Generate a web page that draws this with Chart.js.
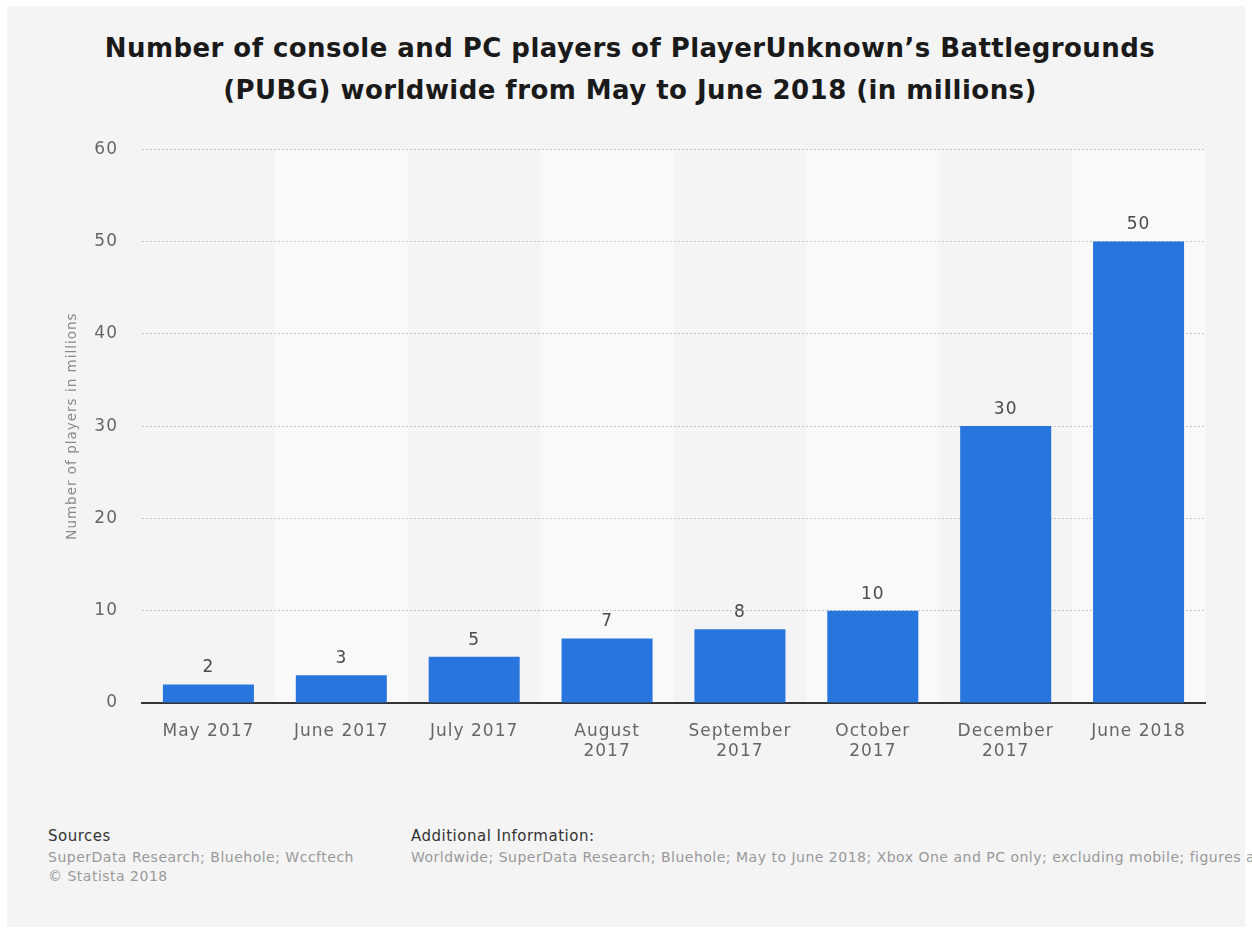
<!DOCTYPE html>
<html>
<head>
<meta charset="utf-8">
<script src="https://cdn.jsdelivr.net/npm/chart.js@4.4.1/dist/chart.umd.min.js"></script>
<style>
  html, body { margin: 0; padding: 0; background: #ffffff; width: 1252px; height: 929px; overflow: hidden; }
  #panel { position: absolute; left: 7px; top: 6px; width: 1238px; height: 921px; background: #f4f4f4; }
  #title { position: absolute; left: 0; top: 27px; width: 1260px; text-align: center;
           font: bold 26px "DejaVu Sans", sans-serif; line-height: 42px; color: #1a1a1a; letter-spacing: 0.45px; }
  #chartBox { position: absolute; left: 0; top: 115px; width: 1252px; height: 658px; }
  .foot { position: absolute; font-family: "DejaVu Sans", sans-serif; white-space: nowrap; }
  .head { font-size: 15px; color: #333; letter-spacing: 0.5px; }
  .sub { font-size: 14px; color: #999; line-height: 19px; letter-spacing: 0.5px; }
</style>
</head>
<body>
<div id="panel"></div>
<div id="title">Number of console and PC players of PlayerUnknown’s Battlegrounds<br>(PUBG) worldwide from May to June 2018 (in millions)</div>
<div id="chartBox"><canvas id="c"></canvas></div>
<div class="foot head" style="left:48px; top:827px;">Sources</div>
<div class="foot sub" style="left:48px; top:848px;">SuperData Research; Bluehole; Wccftech<br>© Statista 2018</div>
<div class="foot head" style="left:411px; top:827px;">Additional Information:</div>
<div class="foot sub" style="left:411px; top:848px;">Worldwide; SuperData Research; Bluehole; May to June 2018; Xbox One and PC only; excluding mobile; figures a</div>
<script>
const categories = ['May 2017', 'June 2017', 'July 2017', ['August', '2017'], ['September', '2017'], ['October', '2017'], ['December', '2017'], 'June 2018'];
const players = [2, 3, 5, 7, 8, 10, 30, 50];
const yMin = 0;
const yMax = 60;
const yStep = 10;
const yAxisTitle = 'Number of players in millions';

const spacingPlugin = {
  id: 'spacing',
  beforeDraw(chart) {
    chart.ctx.letterSpacing = '1px';
  }
};

const bgBands = {
  id: 'bgBands',
  beforeDraw(chart) {
    const { ctx, chartArea, scales } = chart;
    const x = scales.x;
    const w = (chartArea.right - chartArea.left) / categories.length;
    ctx.save();
    ctx.fillStyle = '#f9f9f9';
    categories.forEach((c, i) => {
      if (i % 2 === 1) {
        const cx = x.getPixelForValue(i);
        ctx.fillRect(cx - w / 2, chartArea.top, w, chartArea.bottom - chartArea.top);
      }
    });
    ctx.restore();
  }
};

const valueLabels = {
  id: 'valueLabels',
  afterDatasetsDraw(chart) {
    const ctx = chart.ctx;
    const meta = chart.getDatasetMeta(0);
    ctx.save();
    ctx.font = '17px "DejaVu Sans", sans-serif';
    ctx.fillStyle = '#4a4a4a';
    ctx.textAlign = 'center';
    ctx.textBaseline = 'bottom';
    meta.data.forEach((bar, i) => {
      ctx.fillText(String(players[i]), bar.x, bar.y - 8);
    });
    ctx.restore();
  }
};

new Chart(document.getElementById('c'), {
  type: 'bar',
  data: {
    labels: categories,
    datasets: [{
      data: players,
      backgroundColor: '#2876dd',
      borderWidth: 0,
      barPercentage: 0.685,
      categoryPercentage: 1
    }]
  },
  plugins: [spacingPlugin, bgBands, valueLabels],
  options: {
    responsive: true,
    maintainAspectRatio: false,
    animation: false,
    layout: { padding: { left: 60, right: 47, top: 4, bottom: 0 } },
    plugins: { legend: { display: false }, tooltip: { enabled: false }, title: { display: false } },
    scales: {
      x: {
        afterFit(s) { s.height = 70; },
        grid: { display: false, drawTicks: false },
        border: { display: true, color: '#333333', width: 2 },
        ticks: { color: '#666666', font: { family: 'DejaVu Sans', size: 17 }, padding: 18, maxRotation: 0, autoSkip: false }
      },
      y: {
        min: yMin, max: yMax,
        afterFit(s) { s.width = 82; },
        border: { display: false, dash: [2, 2] },
        grid: {
          drawTicks: false,
          color: (c) => c.tick && c.tick.value === 0 ? 'rgba(0,0,0,0)' : '#c4c4c4',
          lineWidth: 1
        },
        ticks: { stepSize: yStep, color: '#666666', font: { family: 'DejaVu Sans', size: 17 }, padding: 24 },
        title: { display: true, text: yAxisTitle, color: '#888888', font: { family: 'DejaVu Sans', size: 13.5 }, padding: { top: 4, bottom: 0 } }
      }
    }
  }
});
</script>
</body>
</html>
